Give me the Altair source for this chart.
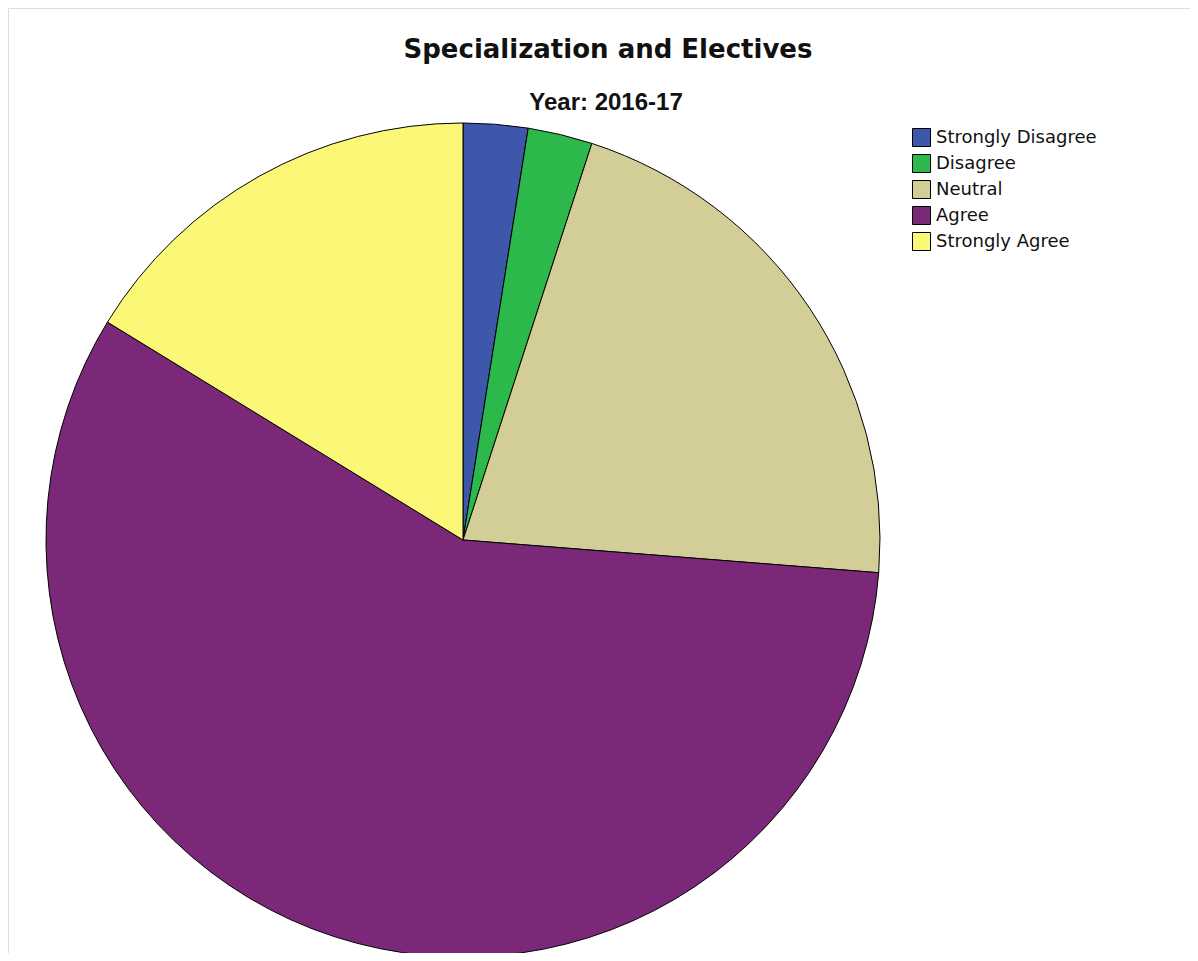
import altair as alt
import pandas as pd

categories = ["Strongly Disagree", "Disagree", "Neutral", "Agree", "Strongly Agree"]
counts = [2, 2, 17, 46, 13]
colors = ["#3D57AB", "#2DB84B", "#D3CE98", "#7B2879", "#FBF877"]

df = pd.DataFrame({"cat": categories, "n": counts, "idx": list(range(len(categories)))})

W, H = 1182, 945
CX, CY, R = 455, 532, 417

pie = alt.Chart(df).mark_arc(stroke="black", strokeWidth=1, outerRadius=R).encode(
    theta=alt.Theta("n:Q", stack=True),
    order=alt.Order("idx:Q"),
    color=alt.Color(
        "cat:N",
        scale=alt.Scale(domain=categories, range=colors),
        sort=categories,
        legend=alt.Legend(
            title=None, orient="none", legendX=904, legendY=120,
            symbolType="square", symbolSize=324, symbolStrokeColor="black",
            symbolStrokeWidth=1, labelFontSize=18, labelFont="DejaVu Sans",
            labelColor="#111", rowPadding=3, labelOffset=5, labelLimit=300,
        ),
    ),
    x=alt.value(CX),
    y=alt.value(CY),
)

titles = pd.DataFrame({"t": ["Specialization and Electives"]})
title = alt.Chart(titles).mark_text(
    font="DejaVu Sans", fontWeight="bold", fontSize=26, color="#111", baseline="middle"
).encode(text="t:N", x=alt.value(600), y=alt.value(42))

subs = pd.DataFrame({"t": ["Year: 2016-17"]})
sub = alt.Chart(subs).mark_text(
    font="Liberation Sans", fontWeight="bold", fontSize=24, color="#111", baseline="middle"
).encode(text="t:N", x=alt.value(598), y=alt.value(95))

chart = alt.layer(pie, title, sub).properties(
    width=W, height=H, autosize=alt.AutoSizeParams(type="none"), padding=0
).configure_view(stroke=None).configure(background="white")

chart.save("out.html", embed_options={"renderer": "svg", "actions": False})
